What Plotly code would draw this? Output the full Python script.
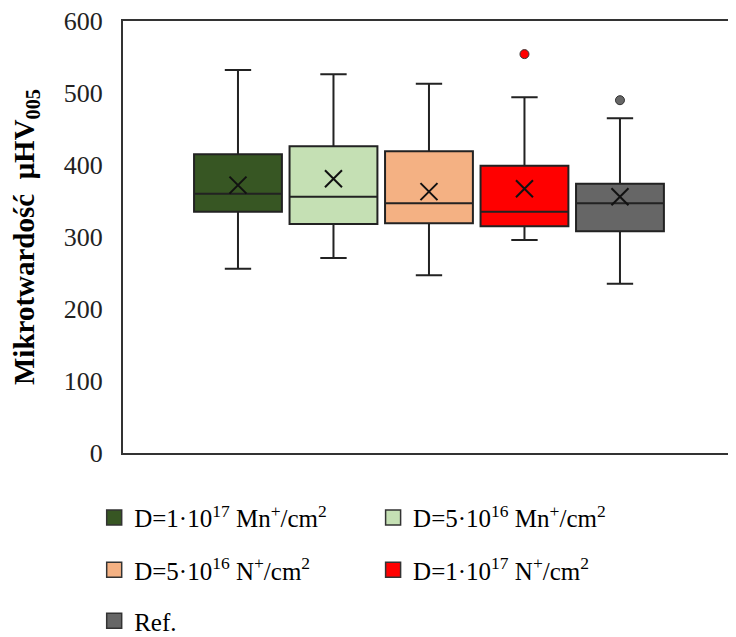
import plotly.graph_objects as go

categories = ["D=1·10<sup>17</sup> Mn<sup>+</sup>/cm<sup>2</sup>",
              "D=5·10<sup>16</sup> Mn<sup>+</sup>/cm<sup>2</sup>",
              "D=5·10<sup>16</sup> N<sup>+</sup>/cm<sup>2</sup>",
              "D=1·10<sup>17</sup> N<sup>+</sup>/cm<sup>2</sup>",
              "Ref."]
keys = ["Mn17", "Mn16", "N16", "N17", "Ref"]
colors = ["#375623", "#C5E0B4", "#F4B183", "#FF0000", "#666666"]

lower = [256, 271, 247, 296, 235]
q1 = [335, 318, 319, 315, 308]
median = [360, 356, 347, 335, 347]
q3 = [415, 426, 419, 399, 374]
upper = [532, 526, 513, 494, 465]
means = [372, 381, 363, 367, 356]
outlier_keys = ["N17", "Ref"]
outlier_vals = [554, 490]
outlier_colors = ["#FF0000", "#666666"]

FONT = "Liberation Serif"
fig = go.Figure()
legend_ids = ["legend", "legend2", "legend3", "legend4", "legend5"]
for i, k in enumerate(keys):
    fig.add_trace(go.Box(
        x=[k], q1=[q1[i]], median=[median[i]], q3=[q3[i]],
        lowerfence=[lower[i]], upperfence=[upper[i]],
        name=categories[i], fillcolor=colors[i],
        line=dict(color="#222222", width=2), whiskerwidth=0.3,
        boxpoints=False, showlegend=False,
    ))
    # legend-only square marker
    fig.add_trace(go.Scatter(
        x=[None], y=[None], mode="markers", name=categories[i],
        marker=dict(symbol="square", size=15, color=colors[i],
                    line=dict(color="#333333", width=1.5)),
        legend=legend_ids[i],
    ))

fig.add_trace(go.Scatter(
    x=keys, y=means, mode="markers", showlegend=False,
    marker=dict(symbol="x-thin", size=17, line=dict(color="#111111", width=2)),
))
fig.add_trace(go.Scatter(
    x=outlier_keys, y=outlier_vals, mode="markers", showlegend=False,
    marker=dict(symbol="circle", size=9, color=outlier_colors,
                line=dict(color="#333333", width=1)),
))

leg_pos = [(-0.047, -0.150), (0.408, -0.150), (-0.047, -0.271), (0.408, -0.271), (-0.047, -0.389)]
layout_legends = {}
for lid, (lx, ly) in zip(legend_ids, leg_pos):
    layout_legends[lid] = dict(x=lx, y=ly, xanchor="left", yanchor="middle",
                               font=dict(family=FONT, size=25, color="#000000"),
                               bgcolor="rgba(0,0,0,0)", itemwidth=30)

fig.update_layout(
    width=728, height=629,
    margin=dict(l=115, r=0, t=13, b=184, autoexpand=False),
    paper_bgcolor="white", plot_bgcolor="white",
    boxmode="overlay", boxgap=0.08, boxgroupgap=0,
    font=dict(family=FONT, color="#000000"),
    **layout_legends,
)
fig.update_xaxes(
    type="category", categoryorder="array", categoryarray=keys,
    range=[-1.204, 5.215], showticklabels=False, ticks="",
    showline=True, mirror=True, linecolor="#333333", linewidth=2,
    showgrid=False, zeroline=False, automargin=False,
)
fig.update_yaxes(
    range=[0, 600], tickvals=[0, 100, 200, 300, 400, 500, 600],
    showline=True, mirror=False, linecolor="#333333", linewidth=2,
    showgrid=False, zeroline=False, ticks="", automargin=False,
    tickfont=dict(family=FONT, size=26, color="#222222"),
    ticklabelstandoff=13, ticklabeloverflow="allow",
    title=dict(text="<b>Mikrotwardość  μHV<sub>005</sub></b>",
               font=dict(family=FONT, size=29, color="#000000"), standoff=24),
)

fig.write_html("out.html")
